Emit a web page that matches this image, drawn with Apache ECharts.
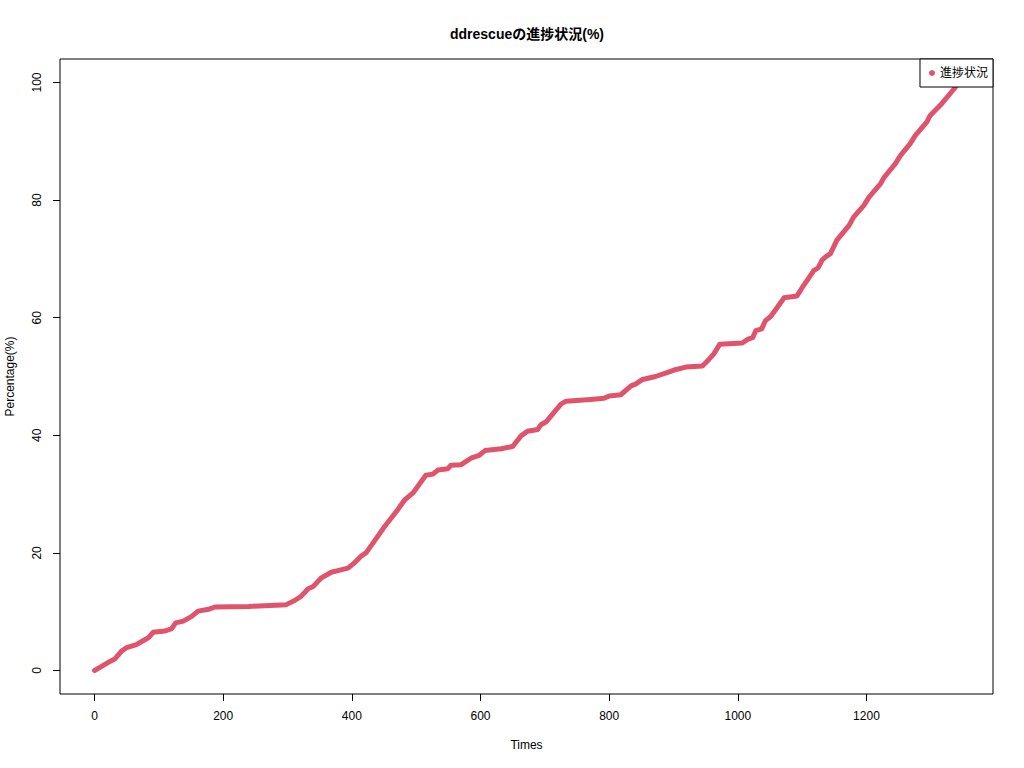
<!DOCTYPE html>
<html>
<head>
<meta charset="utf-8">
<script src="https://cdn.jsdelivr.net/npm/echarts@6/dist/echarts.min.js"></script>
<style>html,body{margin:0;padding:0;background:#fff}#c{width:1024px;height:768px}</style>
</head>
<body>
<div id="c"></div>
<script>
const titleText = "ddrescueの進捗状況(%)";
const seriesName = "進捗状況";
const xName = "Times";
const yName = "Percentage(%)";
const xTicks = [0, 200, 400, 600, 800, 1000, 1200];
const yTicks = [0, 20, 40, 60, 80, 100];
const times = [0, 11, 20, 32, 42, 50, 65, 76, 84, 91, 109, 120, 126, 138, 151, 161, 177, 187, 240, 298,
  311, 321, 332, 340, 352, 368, 383, 394, 404, 415, 422, 435, 451, 471, 482, 495, 515, 526, 534, 549,
  554, 570, 585, 598, 607, 632, 650, 663, 673, 689, 694, 702, 712, 725, 733, 771, 792, 800, 818, 834,
  841, 852, 872, 891, 901, 919, 945, 955, 963, 972, 1007, 1015, 1023, 1028, 1037, 1043, 1051, 1059, 1072, 1092,
  1100, 1108, 1118, 1125, 1131, 1137, 1144, 1154, 1173, 1180, 1196, 1204, 1222, 1227, 1245, 1253, 1268, 1276, 1294, 1299,
  1317, 1336, 1343];
const percentage = [0, 0.7, 1.3, 2.0, 3.3, 3.9, 4.4, 5.1, 5.6, 6.5, 6.7, 7.1, 8.1, 8.4, 9.2, 10.1, 10.4, 10.8, 10.9, 11.2,
  11.9, 12.6, 13.9, 14.3, 15.7, 16.7, 17.1, 17.4, 18.3, 19.5, 20.0, 22.0, 24.5, 27.3, 29.0, 30.2, 33.2, 33.4, 34.1, 34.3,
  34.9, 35.0, 36.1, 36.6, 37.4, 37.7, 38.1, 39.9, 40.7, 41.0, 41.8, 42.3, 43.6, 45.3, 45.8, 46.1, 46.3, 46.7, 46.9, 48.4,
  48.7, 49.5, 50.0, 50.7, 51.1, 51.6, 51.8, 52.9, 53.9, 55.5, 55.7, 56.3, 56.6, 57.8, 58.1, 59.5, 60.2, 61.4, 63.4, 63.7,
  65.1, 66.4, 68.0, 68.5, 69.8, 70.4, 70.9, 73.2, 75.7, 77.1, 79.1, 80.5, 82.8, 83.8, 86.2, 87.6, 89.6, 91.0, 93.3, 94.4,
  96.4, 98.9, 100];

const FONT = '"Liberation Sans", Arial, "Noto Sans CJK JP", sans-serif';
const lineColor = '#DF536B';
const data = times.map((t, i) => [t, percentage[i]]);

const chart = echarts.init(document.getElementById('c'), null, {renderer: 'svg'});
chart.setOption({
  animation: false,
  backgroundColor: '#fff',
  textStyle: {fontFamily: FONT, color: '#000'},
  title: {
    text: titleText,
    left: 522, top: 22, textAlign: 'center',
    textStyle: {fontFamily: FONT, fontSize: 14, fontWeight: 'bold', color: '#000'}
  },
  legend: {
    right: 31, top: 59,
    orient: 'vertical',
    backgroundColor: '#fff',
    borderColor: '#000', borderWidth: 1, borderRadius: 0,
    padding: [8, 5, 8, 9],
    itemWidth: 6, itemHeight: 6,
    icon: 'circle',
    textStyle: {fontFamily: FONT, fontSize: 12, color: '#000'},
    data: [{name: seriesName, itemStyle: {color: lineColor}}]
  },
  grid: {
    left: 60, right: 31, top: 59, bottom: 74,
    outerBoundsMode: 'none', containLabel: false,
    show: true, borderColor: '#000', borderWidth: 1, backgroundColor: 'transparent'
  },
  xAxis: {
    type: 'value', min: -53.7, max: 1396.7,
    name: xName, nameLocation: 'middle', nameGap: 45,
    nameTextStyle: {fontFamily: FONT, fontSize: 12, color: '#000'},
    axisLine: {show: false, onZero: false},
    splitLine: {show: false},
    axisTick: {show: true, inside: false, length: 7, lineStyle: {color: '#000'}, customValues: xTicks},
    axisLabel: {fontFamily: FONT, fontSize: 12, color: '#000', margin: 16, customValues: xTicks,
      formatter: v => String(v)}
  },
  yAxis: {
    type: 'value', min: -4, max: 104,
    name: yName, nameLocation: 'middle', nameGap: 44, nameRotate: 90,
    nameTextStyle: {fontFamily: FONT, fontSize: 12, color: '#000'},
    axisLine: {show: false, onZero: false},
    splitLine: {show: false},
    axisTick: {show: true, inside: false, length: 7, lineStyle: {color: '#000'}, customValues: yTicks},
    axisLabel: {fontFamily: FONT, fontSize: 12, color: '#000', margin: 17, rotate: 90, customValues: yTicks,
      formatter: v => String(v)}
  },
  series: [{
    name: seriesName,
    type: 'line',
    data: data,
    showSymbol: false,
    symbol: 'circle',
    color: lineColor,
    lineStyle: {color: lineColor, width: 5, cap: 'round', join: 'round'},
    z: 3
  }]
});
</script>
</body>
</html>
